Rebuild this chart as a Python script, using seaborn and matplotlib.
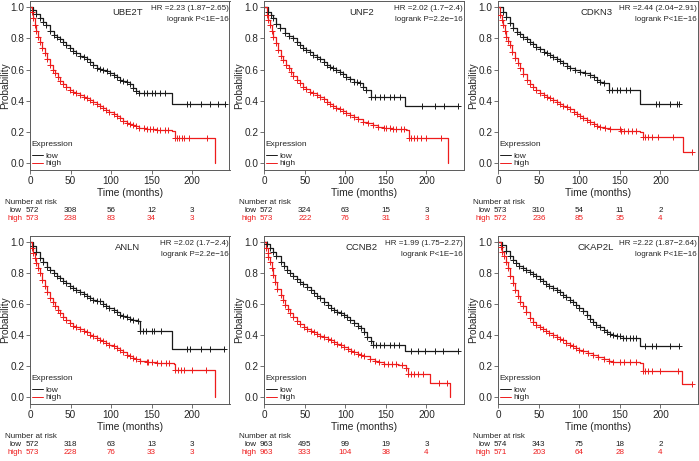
import numpy as np
import pandas as pd
import matplotlib
matplotlib.use("Agg")
import matplotlib.pyplot as plt
import seaborn as sns
from matplotlib.lines import Line2D
from matplotlib.transforms import blended_transform_factory, offset_copy

# ------------------------------------------------------------------ data
genes = ["UBE2T", "UNF2", "CDKN3", "ANLN", "CCNB2", "CKAP2L"]
hr_labels = ["HR =2.23 (1.87\u22122.65)", "HR =2.02 (1.7\u22122.4)", "HR =2.44 (2.04\u22122.91)",
             "HR =2.02 (1.7\u22122.4)", "HR =1.99 (1.75\u22122.27)", "HR =2.22 (1.87\u22122.64)"]
p_labels = ["logrank P<1E\u221216", "logrank P=2.2e\u221216", "logrank P<1E\u221216",
            "logrank P=2.2e\u221216", "logrank P<1E\u221216", "logrank P<1E\u221216"]
risk_times = [0, 50, 100, 150, 200]
y_ticks = [0.0, 0.2, 0.4, 0.6, 0.8, 1.0]

# UBE2T
ube2t_low_t = [0, 4, 8, 12, 16, 20, 25, 29, 33, 37, 41, 45, 49, 53, 57, 62, 66, 70, 74, 78, 82, 86, 90, 95, 99, 103, 107, 111, 115, 119, 123, 127, 131, 135, 175, 240]
ube2t_low_s = [1.0, 0.98, 0.955, 0.93, 0.905, 0.887, 0.85, 0.825, 0.81, 0.795, 0.78, 0.76, 0.74, 0.72, 0.705, 0.69, 0.684, 0.668, 0.652, 0.63, 0.612, 0.605, 0.598, 0.59, 0.578, 0.565, 0.55, 0.535, 0.528, 0.52, 0.505, 0.48, 0.465, 0.449, 0.378, 0.378]
ube2t_low_c = [140, 144, 150, 154, 160, 166, 193, 197, 211, 222, 232, 240]
ube2t_high_t = [0, 2, 4, 6, 8, 10, 12, 15, 18, 21, 25, 28, 31, 34, 37, 41, 45, 49, 53, 57, 62, 66, 70, 74, 78, 82, 86, 90, 94, 98, 103, 107, 111, 115, 119, 123, 127, 131, 135, 140, 144, 156, 175, 179, 228]
ube2t_high_s = [1.0, 0.97, 0.93, 0.885, 0.845, 0.81, 0.775, 0.74, 0.705, 0.67, 0.63, 0.60, 0.577, 0.55, 0.525, 0.505, 0.487, 0.47, 0.459, 0.448, 0.438, 0.428, 0.417, 0.406, 0.395, 0.382, 0.368, 0.355, 0.342, 0.328, 0.314, 0.30, 0.288, 0.274, 0.26, 0.252, 0.246, 0.237, 0.229, 0.224, 0.22, 0.214, 0.209, 0.16, 0.0]
ube2t_high_c = [148, 152, 160, 166, 170, 181, 184, 187, 190, 196, 218]
ube2t_risk_low = [572, 308, 56, 12, 3]
ube2t_risk_high = [573, 238, 83, 34, 3]

# UNF2
unf2_low_t = [0, 5, 8, 11, 15, 19, 25, 30, 36, 40, 44, 48, 52, 56, 60, 65, 69, 73, 77, 81, 85, 89, 93, 97, 101, 106, 110, 114, 118, 122, 126, 132, 174, 239]
unf2_low_s = [1.0, 0.972, 0.95, 0.93, 0.895, 0.865, 0.833, 0.815, 0.80, 0.78, 0.759, 0.742, 0.726, 0.71, 0.694, 0.68, 0.667, 0.648, 0.63, 0.62, 0.609, 0.598, 0.588, 0.572, 0.556, 0.54, 0.523, 0.518, 0.513, 0.49, 0.47, 0.427, 0.367, 0.367]
unf2_low_c = [137, 143, 148, 155, 160, 167, 194, 211, 222, 239]
unf2_high_t = [0, 3, 5, 7, 9, 11, 14, 17, 20, 23, 27, 30, 33, 36, 40, 44, 48, 52, 56, 60, 65, 69, 73, 77, 81, 85, 89, 93, 97, 101, 106, 110, 116, 122, 128, 134, 140, 147, 159, 175, 179, 227]
unf2_high_s = [1.0, 0.95, 0.92, 0.887, 0.85, 0.81, 0.77, 0.726, 0.69, 0.662, 0.632, 0.609, 0.585, 0.56, 0.535, 0.513, 0.492, 0.474, 0.46, 0.449, 0.438, 0.427, 0.411, 0.395, 0.381, 0.368, 0.357, 0.346, 0.333, 0.32, 0.307, 0.295, 0.281, 0.267, 0.256, 0.246, 0.235, 0.224, 0.218, 0.214, 0.16, 0.0]
unf2_high_c = [150, 155, 163, 168, 172, 181, 184, 188, 193, 199, 218]
unf2_risk_low = [572, 324, 63, 15, 3]
unf2_risk_high = [573, 222, 76, 31, 3]

# CDKN3
cdkn3_low_t = [0, 6, 10, 14, 18, 23, 27, 31, 35, 39, 43, 47, 51, 56, 60, 64, 68, 72, 76, 80, 85, 89, 95, 101, 107, 113, 118, 122, 126, 130, 136, 175, 223]
cdkn3_low_s = [1.0, 0.972, 0.935, 0.897, 0.87, 0.844, 0.828, 0.812, 0.796, 0.78, 0.764, 0.748, 0.732, 0.716, 0.705, 0.694, 0.68, 0.667, 0.654, 0.641, 0.625, 0.609, 0.598, 0.588, 0.577, 0.566, 0.55, 0.534, 0.523, 0.513, 0.47, 0.378, 0.378]
cdkn3_low_c = [140, 146, 150, 157, 163, 194, 198, 212, 220, 223]
cdkn3_high_t = [0, 2, 4, 6, 8, 10, 12, 14, 17, 21, 24, 27, 31, 35, 39, 43, 47, 52, 56, 60, 64, 68, 72, 76, 80, 85, 89, 93, 97, 101, 105, 109, 113, 118, 122, 126, 132, 138, 151, 175, 179, 228, 239]
cdkn3_high_s = [1.0, 0.95, 0.92, 0.887, 0.85, 0.81, 0.785, 0.76, 0.715, 0.673, 0.64, 0.609, 0.57, 0.534, 0.51, 0.487, 0.468, 0.449, 0.438, 0.427, 0.417, 0.406, 0.393, 0.38, 0.37, 0.359, 0.345, 0.331, 0.318, 0.306, 0.292, 0.278, 0.265, 0.252, 0.241, 0.231, 0.224, 0.218, 0.209, 0.203, 0.167, 0.075, 0.075]
cdkn3_high_c = [150, 155, 160, 165, 170, 181, 185, 190, 197, 216, 239]
cdkn3_risk_low = [573, 310, 54, 11, 2]
cdkn3_risk_high = [572, 236, 85, 35, 4]

# ANLN
anln_low_t = [0, 4, 8, 12, 16, 21, 25, 29, 33, 37, 41, 45, 49, 53, 57, 62, 66, 70, 74, 78, 82, 86, 90, 94, 98, 103, 107, 111, 115, 119, 123, 127, 133, 136, 175, 239]
anln_low_s = [1.0, 0.976, 0.94, 0.897, 0.87, 0.843, 0.82, 0.80, 0.784, 0.768, 0.752, 0.736, 0.72, 0.704, 0.693, 0.682, 0.668, 0.654, 0.642, 0.629, 0.623, 0.618, 0.604, 0.59, 0.577, 0.564, 0.548, 0.532, 0.525, 0.517, 0.508, 0.50, 0.489, 0.425, 0.313, 0.313]
anln_low_c = [139, 143, 150, 153, 161, 193, 197, 211, 222, 239]
anln_high_t = [0, 2, 4, 6, 8, 10, 12, 15, 18, 21, 25, 28, 31, 34, 37, 41, 45, 49, 53, 57, 62, 66, 70, 74, 78, 82, 86, 90, 94, 98, 103, 107, 111, 115, 119, 123, 127, 131, 136, 144, 156, 177, 179, 228]
anln_high_s = [1.0, 0.965, 0.93, 0.9, 0.865, 0.832, 0.80, 0.757, 0.715, 0.68, 0.64, 0.612, 0.586, 0.565, 0.543, 0.52, 0.496, 0.478, 0.461, 0.452, 0.442, 0.43, 0.418, 0.405, 0.393, 0.382, 0.371, 0.36, 0.35, 0.339, 0.328, 0.315, 0.303, 0.289, 0.275, 0.264, 0.253, 0.245, 0.236, 0.225, 0.221, 0.217, 0.174, 0.0]
anln_high_c = [146, 150, 162, 168, 172, 182, 186, 190, 200, 217]
anln_risk_low = [572, 318, 63, 13, 3]
anln_risk_high = [573, 228, 76, 33, 3]

# CCNB2
ccnb2_low_t = [0, 3, 7, 11, 15, 20, 24, 28, 32, 36, 40, 44, 48, 53, 57, 61, 65, 69, 73, 78, 82, 86, 90, 94, 98, 102, 106, 111, 115, 119, 123, 127, 131, 134, 174, 239]
ccnb2_low_s = [1.0, 0.99, 0.965, 0.94, 0.91, 0.875, 0.845, 0.82, 0.80, 0.782, 0.764, 0.746, 0.728, 0.709, 0.69, 0.67, 0.654, 0.638, 0.617, 0.595, 0.578, 0.5625, 0.552, 0.541, 0.528, 0.515, 0.498, 0.48, 0.462, 0.444, 0.418, 0.39, 0.36, 0.34, 0.30, 0.30]
ccnb2_low_c = [138, 143, 148, 155, 160, 166, 181, 190, 198, 210, 220, 239]
ccnb2_high_t = [0, 2, 4, 5, 7, 9, 11, 13, 16, 20, 23, 26, 29, 32, 36, 40, 44, 49, 53, 57, 61, 65, 69, 73, 78, 82, 86, 90, 94, 98, 103, 107, 111, 115, 119, 123, 130, 136, 142, 148, 165, 175, 177, 204, 229]
ccnb2_high_s = [1.0, 0.96, 0.93, 0.907, 0.87, 0.832, 0.79, 0.746, 0.70, 0.66, 0.626, 0.595, 0.567, 0.541, 0.517, 0.494, 0.474, 0.455, 0.442, 0.429, 0.418, 0.407, 0.396, 0.386, 0.377, 0.369, 0.358, 0.347, 0.336, 0.325, 0.312, 0.30, 0.289, 0.278, 0.272, 0.265, 0.25, 0.235, 0.226, 0.218, 0.207, 0.192, 0.149, 0.093, 0.0]
ccnb2_high_c = [152, 158, 163, 170, 181, 185, 190, 196, 216, 225]
ccnb2_risk_low = [963, 495, 99, 19, 3]
ccnb2_risk_high = [963, 333, 104, 38, 4]

# CKAP2L
ckap2l_low_t = [0, 5, 9, 14, 18, 22, 26, 30, 34, 39, 43, 47, 51, 55, 59, 63, 68, 72, 76, 80, 84, 88, 92, 96, 100, 105, 109, 113, 117, 121, 126, 130, 134, 138, 142, 146, 154, 175, 223]
ckap2l_low_s = [1.0, 0.983, 0.945, 0.908, 0.886, 0.865, 0.849, 0.833, 0.822, 0.811, 0.795, 0.779, 0.763, 0.747, 0.733, 0.719, 0.706, 0.693, 0.677, 0.661, 0.645, 0.629, 0.613, 0.597, 0.576, 0.554, 0.529, 0.504, 0.486, 0.468, 0.452, 0.436, 0.423, 0.41, 0.401, 0.393, 0.382, 0.328, 0.328]
ckap2l_low_c = [150, 158, 162, 166, 170, 181, 189, 195, 212, 223]
ckap2l_high_t = [0, 3, 5, 7, 10, 12, 15, 18, 21, 24, 27, 30, 34, 39, 43, 47, 51, 55, 59, 63, 68, 72, 76, 80, 84, 88, 92, 96, 100, 105, 111, 117, 123, 130, 136, 142, 159, 175, 178, 227, 239]
ckap2l_high_s = [1.0, 0.972, 0.94, 0.908, 0.87, 0.833, 0.785, 0.736, 0.69, 0.65, 0.615, 0.586, 0.55, 0.511, 0.488, 0.468, 0.453, 0.44, 0.427, 0.414, 0.401, 0.388, 0.377, 0.367, 0.353, 0.339, 0.328, 0.318, 0.307, 0.296, 0.285, 0.275, 0.261, 0.247, 0.237, 0.227, 0.227, 0.221, 0.167, 0.088, 0.088]
ckap2l_high_c = [150, 155, 163, 170, 181, 185, 190, 200, 222, 239]
ckap2l_risk_low = [574, 343, 75, 18, 2]
ckap2l_risk_high = [571, 203, 64, 28, 4]

panels = [
    ((ube2t_low_t, ube2t_low_s, ube2t_low_c), (ube2t_high_t, ube2t_high_s, ube2t_high_c), ube2t_risk_low, ube2t_risk_high),
    ((unf2_low_t, unf2_low_s, unf2_low_c), (unf2_high_t, unf2_high_s, unf2_high_c), unf2_risk_low, unf2_risk_high),
    ((cdkn3_low_t, cdkn3_low_s, cdkn3_low_c), (cdkn3_high_t, cdkn3_high_s, cdkn3_high_c), cdkn3_risk_low, cdkn3_risk_high),
    ((anln_low_t, anln_low_s, anln_low_c), (anln_high_t, anln_high_s, anln_high_c), anln_risk_low, anln_risk_high),
    ((ccnb2_low_t, ccnb2_low_s, ccnb2_low_c), (ccnb2_high_t, ccnb2_high_s, ccnb2_high_c), ccnb2_risk_low, ccnb2_risk_high),
    ((ckap2l_low_t, ckap2l_low_s, ckap2l_low_c), (ckap2l_high_t, ckap2l_high_s, ckap2l_high_c), ckap2l_risk_low, ckap2l_risk_high),
]

# ------------------------------------------------------------------ style
sns.set_style("white")
plt.rcParams["font.family"] = ["Liberation Sans", "DejaVu Sans"]
BLACK = "#1a1a1a"
RED = "#ee1c1c"
FRAME = "#5a5a5a"

W, H = 699, 461
fig = plt.figure(figsize=(W / 100, H / 100), dpi=100)

col_left = [30, 264.3, 498.3]
ax_w = 199.5
rows = [(1, 170), (236, 404)]   # (top px, bottom px)


def step_at(ts, ss, t):
    i = np.searchsorted(ts, t, side="right") - 1
    return ss[max(i, 0)]


for k, (gene, hr, pl, panel) in enumerate(zip(genes, hr_labels, p_labels, panels)):
    r, c = divmod(k, 3)
    top, bot = rows[r]
    ax = fig.add_axes([col_left[c] / W, (H - bot) / H, ax_w / W, (bot - top) / H])
    low, high, risk_low, risk_high = panel

    for (t, s, cens), color in ((low, BLACK), (high, RED)):
        df = pd.DataFrame({"time": t, "prob": s})
        sns.lineplot(data=df, x="time", y="prob", drawstyle="steps-post", color=color,
                     lw=0.9, ax=ax, estimator=None, sort=False, legend=False)
        tt = np.asarray(t, float)
        ss = np.asarray(s, float)
        gaps = np.diff(tt)
        mask = np.zeros(len(tt), bool)
        mask[1:-1] = gaps[:-1] < 15
        ct = list(tt[mask]) + list(cens)
        cs = [step_at(tt, ss, x) for x in ct]
        sns.scatterplot(x=ct, y=cs, marker="+", s=20, color=color, linewidth=0.7,
                        ax=ax, legend=False, zorder=3)

    ax.set_xlim(0, 246)
    ax.set_ylim(-0.043, 1.04)
    ax.set_xticks(risk_times)
    ax.set_yticks(y_ticks)
    ax.yaxis.set_major_formatter(matplotlib.ticker.FormatStrFormatter("%.1f"))
    ax.tick_params(direction="out", length=3, width=0.6, color=FRAME, labelsize=7.2,
                   pad=1.2, left=True, bottom=True)
    for sp in ax.spines.values():
        sp.set_visible(True)
        sp.set_color(FRAME)
        sp.set_linewidth(0.7)
    ax.set_xlabel("Time (months)", fontsize=7.4, labelpad=1.5)
    ax.set_ylabel("Probability", fontsize=7.2, labelpad=0.3)

    ax.text(0.49, 0.93, gene, transform=ax.transAxes, ha="center", va="center", fontsize=6.8)
    ax.text(0.995, 0.953, hr, transform=ax.transAxes, ha="right", va="center", fontsize=5.8)
    ax.text(0.995, 0.892, pl, transform=ax.transAxes, ha="right", va="center", fontsize=5.8)

    # legend
    ax.text(0.005, 0.15, "Expression", transform=ax.transAxes, ha="left", va="center", fontsize=6)
    handles = [Line2D([], [], color=BLACK, lw=0.7, label="low"),
               Line2D([], [], color=RED, lw=0.7, label="high")]
    ax.legend(handles=handles, loc="lower left", bbox_to_anchor=(0.0, 0.005), frameon=False,
              fontsize=6, handlelength=1.3, handletextpad=0.3, labelspacing=0.0,
              borderpad=0.2, borderaxespad=0.0)

    # number at risk table
    bt = blended_transform_factory(ax.transData, ax.transAxes)
    at = ax.transAxes
    ax.text(0, 0, "Number at risk", transform=offset_copy(at, fig=fig, x=-25, y=-32.5, units="dots"),
            ha="left", va="center", fontsize=5.8)
    ax.text(0, 0, "low", transform=offset_copy(at, fig=fig, x=-8, y=-40.5, units="dots"),
            ha="right", va="center", fontsize=5.8, color=BLACK)
    ax.text(0, 0, "high", transform=offset_copy(at, fig=fig, x=-8, y=-48.5, units="dots"),
            ha="right", va="center", fontsize=5.8, color=RED)
    for tx, nl, nh in zip(risk_times, risk_low, risk_high):
        ax.text(tx, 0, str(nl), transform=offset_copy(bt, fig=fig, x=2 if tx == 0 else 0, y=-40.5, units="dots"),
                ha="center", va="center", fontsize=5.8, color=BLACK)
        ax.text(tx, 0, str(nh), transform=offset_copy(bt, fig=fig, x=2 if tx == 0 else 0, y=-48.5, units="dots"),
                ha="center", va="center", fontsize=5.8, color=RED)

fig.savefig("out.png", dpi=100)
